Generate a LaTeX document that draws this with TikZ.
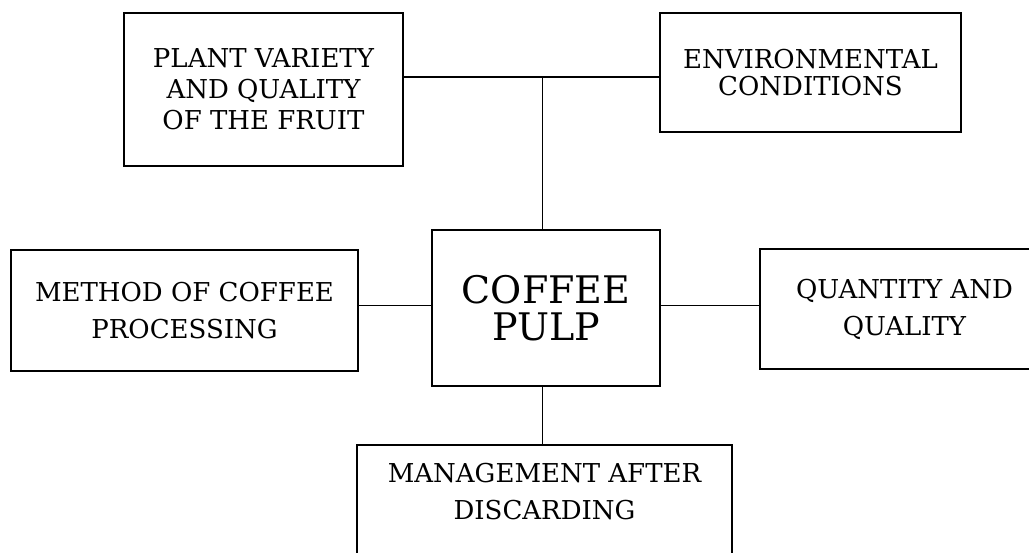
\documentclass[tikz,border=0pt]{standalone}
\usepackage{fontspec}
\setmainfont{DejaVu Serif}

\tikzset{every picture/.style={line width=1.1pt}}
\tikzset{pulpbox/.style={draw, line width=1.2pt, align=center, inner sep=0pt, font=\fontsize{19.5}{27.75}\selectfont}}

\begin{document}
\begin{tikzpicture}[x=0.75pt,y=0.75pt,yscale=-1,xscale=1]
%set diagram left start at 0, and has height of 553
\useasboundingbox (0,0) rectangle (1029,553);
\clip (0,0) rectangle (1029,553);

%Shape: Rectangle [id:plant]
\node [pulpbox, minimum width=209.25pt, minimum height=114.75pt, font=\fontsize{19.5}{23.25}\selectfont] (plant) at (263.5,89.5) {PLANT VARIETY\\AND QUALITY\\OF THE FRUIT};
%Shape: Rectangle [id:env]
\node [pulpbox, minimum width=225.75pt, minimum height=89.25pt, font=\fontsize{19.5}{20.25}\selectfont] (env) at (810.5,72.5) {ENVIRONMENTAL\\CONDITIONS};
%Shape: Rectangle [id:method]
\node [pulpbox, minimum width=260.25pt, minimum height=90.75pt] (method) at (184.5,310.5) {METHOD OF COFFEE\\PROCESSING};
%Shape: Rectangle [id:pulp]
\node [pulpbox, minimum width=171pt, minimum height=117pt, font=\fontsize{28.5}{27.5}\selectfont] (pulp) at (546,308) {COFFEE\\PULP};
%Shape: Rectangle [id:quant]
\node [pulpbox, minimum width=216.75pt, minimum height=90pt] (quant) at (904.5,309) {QUANTITY AND\\QUALITY};
%Shape: Rectangle [id:mgmt]
\node [pulpbox, anchor=north, minimum width=281.25pt, inner ysep=13.5pt, text depth=100pt] (mgmt) at (544.5,444) {MANAGEMENT AFTER\\DISCARDING};

\coordinate (top) at (542.5,77);
\coordinate (mid) at (542.5,305.5);

%Straight Lines [id:top]
\draw (plant.east |- top) -- (env.west |- top);
%Straight Lines [id:down]
\draw (top) -- (top |- pulp.north);
%Straight Lines [id:left]
\draw (method.east |- mid) -- (pulp.west |- mid);
%Straight Lines [id:right]
\draw (pulp.east |- mid) -- (quant.west |- mid);
%Straight Lines [id:bottom]
\draw (top |- pulp.south) -- (top |- mgmt.north);

\end{tikzpicture}
\end{document}
